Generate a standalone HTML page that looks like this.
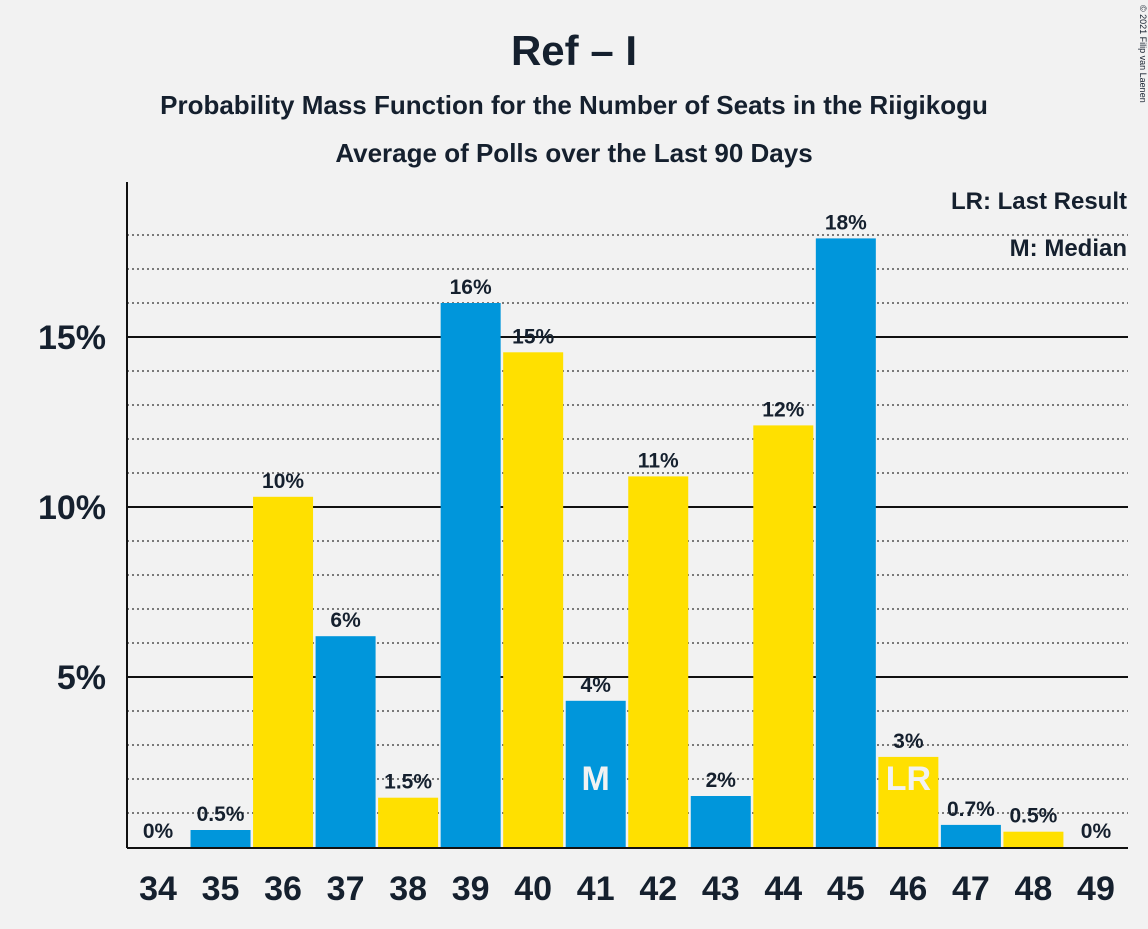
<!DOCTYPE html>
<html><head><meta charset="utf-8"><style>
body{margin:0;background:#f2f2f2;font-family:"Liberation Sans",sans-serif;}
svg text{font-family:"Liberation Sans",sans-serif;font-weight:bold;fill:#15202e;}
</style></head><body>
<svg id="c" width="1148" height="924">
<text x="574" y="65" font-size="42" text-anchor="middle">Ref – I</text>
<text x="574" y="114" font-size="26" text-anchor="middle">Probability Mass Function for the Number of Seats in the Riigikogu</text>
<text x="574" y="162" font-size="26" text-anchor="middle">Average of Polls over the Last 90 Days</text>
<text x="1140" y="5" font-size="9" transform="rotate(90 1140 5)" style="font-weight:normal">© 2021 Filip van Laenen</text>
<g id="grid"></g><g id="bars"></g><g id="labels"></g>
<text x="1127" y="209" font-size="24" text-anchor="end">LR: Last Result</text>
<text x="1127" y="256" font-size="24" text-anchor="end">M: Median</text>
</svg>
<script>
const seats=[34,35,36,37,38,39,40,41,42,43,44,45,46,47,48,49];
const probs=[0,0.5,10.3,6.2,1.45,16.0,14.55,4.3,10.9,1.5,12.4,17.9,2.65,0.65,0.45,0];
const valueLabels=["0%","0.5%","10%","6%","1.5%","16%","15%","4%","11%","2%","12%","18%","3%","0.7%","0.5%","0%"];
const yTicks=[5,10,15];
const yTickLabels=["5%","10%","15%"];
const medianSeat=41, lastSeat=46;
const NS='http://www.w3.org/2000/svg';
const y=v=>847-v*34;
const x=s=>158+(s-34)*62.53;
function mk(t,a,p){const e=document.createElementNS(NS,t);for(const k in a)e.setAttribute(k,a[k]);p.appendChild(e);return e;}
const g=document.getElementById('grid'),b=document.getElementById('bars'),l=document.getElementById('labels');
for(let i=1;i<=18;i++){if(i%5==0)continue;const e=mk('line',{x1:127,x2:1128,y1:y(i),y2:y(i),stroke:'#333','stroke-width':1.3,'stroke-dasharray':'2,3'},g);

}
yTicks.forEach((t,i)=>{const e=mk('line',{x1:127,x2:1128,y1:y(t),y2:y(t),stroke:'#111','stroke-width':2},g);


const tx=mk('text',{x:106,y:y(t)+12,'font-size':34,'text-anchor':'end'},g);tx.textContent=yTickLabels[i];

});
const ax=mk('line',{x1:127,x2:127,y1:182,y2:848,stroke:'#111','stroke-width':2},g);


const bx=mk('line',{x1:127,x2:1128,y1:848,y2:848,stroke:'#111','stroke-width':2},g);


seats.forEach((s,i)=>{const v=probs[i];const col=(s%2==1)?'#0096db':'#ffe000';
if(v>0){const r=mk('rect',{x:x(s)-30,y:y(v),width:60,height:847-y(v),fill:col},b);

}
const vl=mk('text',{x:x(s),y:y(v)-9,'font-size':21,'text-anchor':'middle'},l);vl.textContent=valueLabels[i];


const xl=mk('text',{x:x(s),y:900,'font-size':34,'text-anchor':'middle'},l);xl.textContent=s;


if(s===medianSeat||s===lastSeat){const m=mk('text',{x:x(s),y:790,'font-size':34,'text-anchor':'middle',style:'fill:#f2f2f2'},l);m.textContent=s===medianSeat?'M':'LR';

}
});
</script>
</body></html>
